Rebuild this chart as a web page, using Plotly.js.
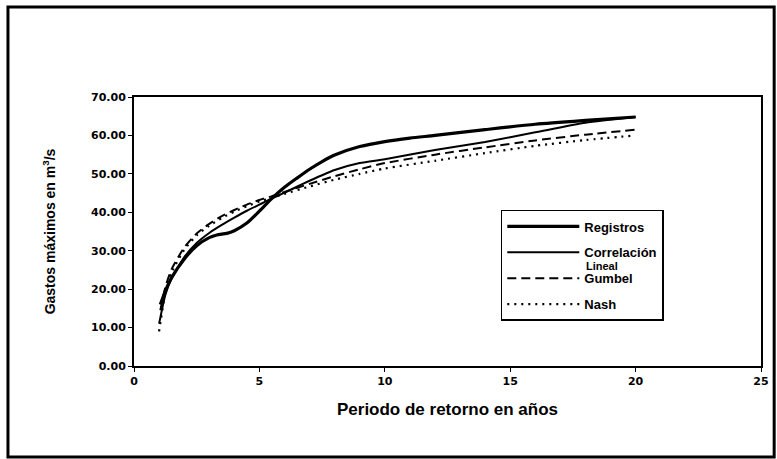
<!DOCTYPE html>
<html>
<head>
<meta charset="utf-8">
<script src="https://cdn.plot.ly/plotly-3.0.1.min.js"></script>
<style>
html,body{margin:0;padding:0;background:#fff;}
#chart{width:777px;height:459px;}
</style>
</head>
<body>
<div id="chart"></div>
<script>
// Registros
const regX = [1.05, 1.25, 1.5, 2, 2.5, 3, 3.3, 3.7, 4, 4.5, 5, 5.5, 6, 6.5, 7, 7.5, 8, 9, 10, 11, 12, 14, 16, 18, 20];
const regY = [16, 19.5, 23, 27.8, 31.3, 33.4, 34.1, 34.5, 35.2, 37.2, 40.3, 43.6, 46.5, 48.9, 51.2, 53.2, 54.9, 57.1, 58.4, 59.3, 60.0, 61.5, 62.9, 63.9, 64.8];
// Correlación Lineal
const corX = [1, 1.25, 1.5, 2, 2.5, 3, 3.5, 4, 4.5, 5, 5.5, 6, 7, 8, 9, 10, 12, 14, 16, 18, 20];
const corY = [11, 18.5, 22.8, 28.3, 32, 34.6, 36.7, 38.6, 40.4, 42, 43.6, 45.1, 48.2, 51, 52.8, 53.8, 56.2, 58.3, 60.8, 63.3, 64.8];
// Gumbel
const gumX = [1.05, 1.25, 1.5, 2, 2.5, 3, 3.5, 4, 4.5, 5, 5.5, 6, 7, 8, 9, 10, 12, 14, 16, 18, 20];
const gumY = [14.5, 20.5, 25.2, 30.8, 34.5, 37, 39, 40.6, 42, 43.2, 44.2, 45.3, 47.4, 49.4, 51.2, 52.8, 55, 56.9, 58.7, 60.2, 61.5];
// Nash
const nasX = [1, 1.25, 1.5, 2, 2.5, 3, 3.5, 4, 4.5, 5, 5.5, 6, 7, 8, 9, 10, 12, 14, 16, 18, 20];
const nasY = [9, 19, 24.3, 30.2, 34, 36.5, 38.5, 40.2, 41.6, 42.8, 43.8, 44.8, 46.7, 48.5, 50, 51.4, 53.4, 55.4, 57.3, 58.8, 60];

const seriesNames = ['Registros', 'Correlación', 'Gumbel', 'Nash'];
const nameSecondLine = 'Lineal';

const xTicks = [0, 5, 10, 15, 20, 25];
const yTicks = [0, 10, 20, 30, 40, 50, 60, 70];

const FONT = 'Liberation Sans, Arial, sans-serif';
const TICKFONT = 'DejaVu Sans, Liberation Sans, sans-serif';

const traces = [
  {x: regX, y: regY, name: seriesNames[0], mode: 'lines', legendgroup: 'a',
   line: {color: '#000', width: 3.2, shape: 'spline', smoothing: 0.7}},
  {x: corX, y: corY, name: seriesNames[1], mode: 'lines', legendgroup: 'b',
   line: {color: '#000', width: 2, shape: 'spline', smoothing: 0.6}},
  {x: gumX, y: gumY, name: seriesNames[2], mode: 'lines', legendgroup: 'c',
   line: {color: '#000', width: 2, dash: '9px,5px', shape: 'spline', smoothing: 0.6}},
  {x: nasX, y: nasY, name: seriesNames[3], mode: 'lines', legendgroup: 'd',
   line: {color: '#000', width: 2.2, dash: '2px,5px', shape: 'spline', smoothing: 0.6}}
];

const layout = {
  width: 777, height: 459,
  margin: {l: 134, r: 16, t: 97, b: 93},
  paper_bgcolor: '#fff', plot_bgcolor: '#fff',
  font: {family: FONT, color: '#000', size: 12, weight: 'bold'},
  showlegend: true,
  legend: {
    x: 0.585, y: 0.58, xanchor: 'left', yanchor: 'top',
    bgcolor: '#fff', bordercolor: '#000', borderwidth: 1.5,
    font: {family: FONT, size: 13, color: '#000', weight: 'bold'},
    itemwidth: 72, tracegroupgap: 6, traceorder: 'grouped', valign: 'middle'
  },
  annotations: [
    {text: nameSecondLine, xref: 'paper', yref: 'paper', x: 0.7177, y: 0.371,
     xanchor: 'left', yanchor: 'middle', showarrow: false,
     font: {family: FONT, size: 11, color: '#000', weight: 'bold'}}
  ],
  xaxis: {
    range: [0, 25], tickvals: xTicks, ticktext: xTicks.map(String),
    showgrid: false, zeroline: false,
    showline: true, linecolor: '#000', linewidth: 2, mirror: true,
    ticks: 'outside', ticklen: 4, tickcolor: '#000', tickwidth: 1,
    tickfont: {family: TICKFONT, size: 11, weight: 'bold'},
    title: {text: 'Periodo de retorno en años', font: {family: FONT, size: 17, weight: 'bold'}, standoff: 16}
  },
  yaxis: {
    range: [0, 70], tickvals: yTicks, tickformat: '.2f',
    showgrid: false, zeroline: false,
    showline: true, linecolor: '#000', linewidth: 2, mirror: true,
    ticks: 'outside', ticklen: 4, tickcolor: '#000', tickwidth: 1,
    tickfont: {family: TICKFONT, size: 11, weight: 'bold'},
    title: {text: 'Gastos máximos en m<sup>3</sup>/s', font: {family: FONT, size: 14, weight: 'bold'}, standoff: 32}
  },
  shapes: [
    {type: 'rect', xref: 'paper', yref: 'paper', x0: -0.201, x1: 1.021, y0: -0.338, y1: 1.335,
     line: {color: '#000', width: 3}, fillcolor: 'rgba(0,0,0,0)', layer: 'below'}
  ]
};

Plotly.newPlot('chart', traces, layout, {displayModeBar: false, staticPlot: true});
</script>
</body>
</html>
